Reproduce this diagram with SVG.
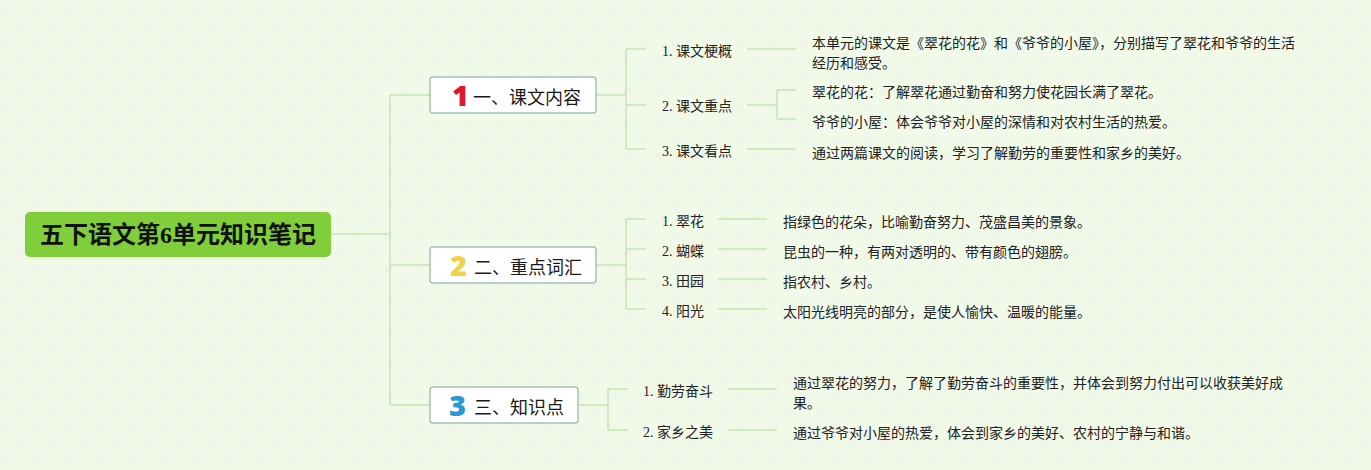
<svg xmlns="http://www.w3.org/2000/svg" width="1371" height="470" viewBox="0 0 1371 470">
<style>
.bg{fill:#f1f9e9}
.conn path{fill:none;stroke:#c6e6b3;stroke-width:1.6}
.root rect{fill:#7fce3a}
.root text{font-family:"Liberation Serif","Noto Sans CJK SC",serif;font-weight:bold;font-size:24px;fill:#111;text-anchor:middle;dominant-baseline:central}
.topic rect{fill:#ffffff;stroke:#a2c3b7;stroke-width:1.5}
.topic text{font-family:"Noto Sans CJK SC",sans-serif;font-size:18px;fill:#1a1a1a;dominant-baseline:central}
.topic text.num{font-family:"Noto Sans","Noto Sans CJK SC",sans-serif;font-weight:900;font-size:29px}
.topic text.n1{fill:#e0182d}
.topic text.n2{fill:#f2d24a}
.topic text.n3{fill:#2a98d6}
.lbl{font-family:"Liberation Serif","Noto Sans CJK SC",serif;font-size:14px;fill:#222;dominant-baseline:central}
.txt{font-family:"Noto Sans CJK SC",sans-serif;font-size:14px;fill:#222;dominant-baseline:central}
</style>
<defs>
<pattern id="dots" width="32" height="32" patternUnits="userSpaceOnUse">
<rect x="0" y="8" width="8" height="8" fill="#eff5e8"/>
<rect x="16" y="24" width="8" height="8" fill="#eff5e8"/>
</pattern>
</defs>
<rect class="bg" x="0" y="0" width="1371" height="470"/>
<rect x="0" y="0" width="1371" height="470" fill="url(#dots)"/>
<g class="conn" id="connectors">
<path d="M331,234 H390"/>
<path d="M390,95 V405"/>
<path d="M390,95 H430"/>
<path d="M390,265 H430"/>
<path d="M390,405 H430"/>
<path d="M596,95 H626"/>
<path d="M626,49 V149"/>
<path d="M626,49 H646"/>
<path d="M626,105 H646"/>
<path d="M626,149 H646"/>
<path d="M747,49 H796"/>
<path d="M747,105 H777"/>
<path d="M777,90 V119"/>
<path d="M777,90 H796"/>
<path d="M777,119 H796"/>
<path d="M747,149 H796"/>
<path d="M596,265 H626"/>
<path d="M626,219 V309"/>
<path d="M626,219 H646"/>
<path d="M626,249 H646"/>
<path d="M626,279 H646"/>
<path d="M626,309 H646"/>
<path d="M718,219 H767"/>
<path d="M718,249 H767"/>
<path d="M718,279 H767"/>
<path d="M718,309 H767"/>
<path d="M578,405 H608"/>
<path d="M608,389 V430"/>
<path d="M608,389 H628"/>
<path d="M608,430 H628"/>
<path d="M728,389 H777"/>
<path d="M728,430 H777"/>
</g>
<g id="root" class="root">
<rect x="25" y="212" width="306" height="45" rx="5"/>
<text x="178" y="235">五下语文第6单元知识笔记</text>
</g>
<g id="topic1" class="topic">
<rect x="430" y="77" width="166" height="36" rx="3"/>
<text class="num n1" x="452" y="94">1</text>
<text x="473" y="96">一、课文内容</text>
</g>
<g id="topic2" class="topic">
<rect x="430" y="247" width="166" height="36" rx="3"/>
<text class="num n2" x="450" y="264">2</text>
<text x="474" y="266">二、重点词汇</text>
</g>
<g id="topic3" class="topic">
<rect x="430" y="387" width="148" height="36" rx="3"/>
<text class="num n3" x="449" y="404">3</text>
<text x="474" y="406">三、知识点</text>
</g>
<g id="t1-1"><text class="lbl" x="662" y="51">1. 课文梗概</text></g>
<g id="t1-1-d"><text class="txt" x="812" y="42">本单元的课文是《翠花的花》和《爷爷的小屋》，分别描写了翠花和爷爷的生活</text><text class="txt" x="812" y="62">经历和感受。</text></g>
<g id="t1-2"><text class="lbl" x="662" y="106">2. 课文重点</text></g>
<g id="t1-2-a"><text class="txt" x="812" y="91">翠花的花：了解翠花通过勤奋和努力使花园长满了翠花。</text></g>
<g id="t1-2-b"><text class="txt" x="812" y="121">爷爷的小屋：体会爷爷对小屋的深情和对农村生活的热爱。</text></g>
<g id="t1-3"><text class="lbl" x="662" y="151">3. 课文看点</text></g>
<g id="t1-3-d"><text class="txt" x="812" y="152">通过两篇课文的阅读，学习了解勤劳的重要性和家乡的美好。</text></g>
<g id="t2-1"><text class="lbl" x="662" y="221">1. 翠花</text></g>
<g id="t2-1-d"><text class="txt" x="783" y="221">指绿色的花朵，比喻勤奋努力、茂盛昌美的景象。</text></g>
<g id="t2-2"><text class="lbl" x="662" y="251">2. 蝴蝶</text></g>
<g id="t2-2-d"><text class="txt" x="783" y="251">昆虫的一种，有两对透明的、带有颜色的翅膀。</text></g>
<g id="t2-3"><text class="lbl" x="662" y="281">3. 田园</text></g>
<g id="t2-3-d"><text class="txt" x="783" y="281">指农村、乡村。</text></g>
<g id="t2-4"><text class="lbl" x="662" y="311">4. 阳光</text></g>
<g id="t2-4-d"><text class="txt" x="783" y="311">太阳光线明亮的部分，是使人愉快、温暖的能量。</text></g>
<g id="t3-1"><text class="lbl" x="643" y="391">1. 勤劳奋斗</text></g>
<g id="t3-1-d"><text class="txt" x="793" y="382">通过翠花的努力，了解了勤劳奋斗的重要性，并体会到努力付出可以收获美好成</text><text class="txt" x="793" y="402">果。</text></g>
<g id="t3-2"><text class="lbl" x="643" y="432">2. 家乡之美</text></g>
<g id="t3-2-d"><text class="txt" x="793" y="432">通过爷爷对小屋的热爱，体会到家乡的美好、农村的宁静与和谐。</text></g>
</svg>
